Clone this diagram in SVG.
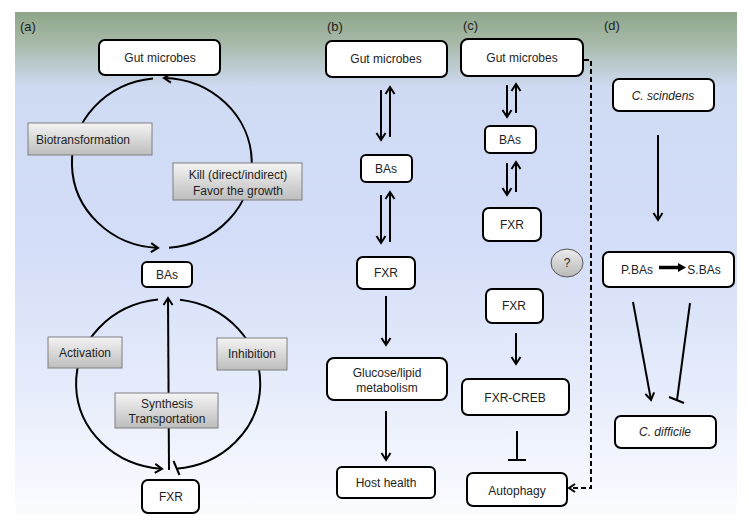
<svg xmlns="http://www.w3.org/2000/svg" width="749" height="528" viewBox="0 0 749 528">
<defs>
<linearGradient id="bg" x1="0" y1="0" x2="0" y2="1">
<stop offset="0" stop-color="#8ea68b"/>
<stop offset="0.06" stop-color="#a6b9a7"/>
<stop offset="0.15" stop-color="#cfdaf3"/>
<stop offset="0.45" stop-color="#d3ddf8"/>
<stop offset="0.75" stop-color="#e6ecfb"/>
<stop offset="1" stop-color="#fbfcff"/>
</linearGradient>
<linearGradient id="gb" x1="0" y1="0" x2="0" y2="1">
<stop offset="0" stop-color="#f4f4f4"/>
<stop offset="1" stop-color="#bdbdbd"/>
</linearGradient>
<linearGradient id="gq" x1="0" y1="0" x2="0" y2="1">
<stop offset="0" stop-color="#ececec"/>
<stop offset="1" stop-color="#b9b9b9"/>
</linearGradient>
<marker id="ah" markerUnits="userSpaceOnUse" viewBox="-10 -6 12 12" refX="0" refY="0" markerWidth="12" markerHeight="12" orient="auto" overflow="visible">
<path d="M-7,-4.5 L0,0 L-7,4.5" fill="none" stroke="#000" stroke-width="2"/>
</marker>
</defs>
<style>
.box{fill:#fff;stroke:#000;stroke-width:2}
.gbox{fill:url(#gb);stroke:#7f7f7f;stroke-width:1}
.t{font-family:"Liberation Sans",Arial,sans-serif;font-size:12px;fill:#1e1e1e;text-anchor:middle}
.it{font-style:italic}
.lbl{font-family:"Liberation Sans",Arial,sans-serif;font-size:13px;fill:#1e1e1e}
.ln{fill:none;stroke:#000;stroke-width:2}
.ar{marker-end:url(#ah)}
.dash{fill:none;stroke:#000;stroke-width:2;stroke-dasharray:5 3}
</style>
<rect x="15" y="12" width="722" height="503" fill="url(#bg)"/>
<g id="labels">
<text class="lbl" x="20" y="31">(a)</text>
<text class="lbl" x="327" y="31">(b)</text>
<text class="lbl" x="463" y="30">(c)</text>
<text class="lbl" x="604" y="30">(d)</text>
</g>
<g id="connectors">
<!-- panel a upper circle -->
<path class="ln ar" d="M153,78.4 A90,85 0 0 0 158,247.9"/>
<path class="ln ar" d="M169,247.7 A90,85 0 0 0 164,78"/>
<!-- panel a lower circle -->
<path class="ln ar" d="M158,299.5 A92,85 0 0 0 162,468.8"/>
<path class="ln" d="M180,299.7 A92,85 0 0 1 176,468.7"/>
<path class="ln" d="M173.5,461 L179.5,475"/>
<path class="ln ar" d="M169,470 L168,298"/>
<!-- panel b -->
<path class="ln ar" d="M381,90 L381,140"/>
<path class="ln ar" d="M390,137 L390,87"/>
<path class="ln ar" d="M381,195 L381,243"/>
<path class="ln ar" d="M390,242 L390,192"/>
<path class="ln ar" d="M386,296 L386,345"/>
<path class="ln ar" d="M386,411 L386,460"/>
<!-- panel c -->
<path class="ln ar" d="M507,85 L507,117"/>
<path class="ln ar" d="M516,113 L516,84"/>
<path class="ln ar" d="M507,163 L507,195"/>
<path class="ln ar" d="M516,192 L516,162"/>
<path class="ln ar" d="M516,333 L516,364"/>
<path class="ln" d="M517,431 L517,460 M508,460 L526,460"/>
<path class="dash" d="M584,60 L591,60 L591,488 L571,488"/>
<path class="ln" d="M575,484 L569,488 L575,492"/>
<!-- panel d -->
<path class="ln ar" d="M633,302 L651,400"/>
<path class="ln ar" d="M658,135 L658,220"/>
<path class="ln" d="M690,303 L677,400 M669,397 L684,403"/>
</g>
<g id="n-a-gut"><rect class="box" x="99" y="40" width="121" height="35" rx="6"/><text class="t" x="160" y="62">Gut microbes</text></g>
<g id="n-a-bio"><rect class="gbox" x="28" y="123" width="124" height="32"/><text class="t" x="83" y="144">Biotransformation</text></g>
<g id="n-a-kill"><rect class="gbox" x="173" y="163" width="129" height="37"/><text class="t" x="238" y="179">Kill (direct/indirect)</text><text class="t" x="238" y="195">Favor the growth</text></g>
<g id="n-a-bas"><rect class="box" x="142" y="262" width="50" height="25" rx="5"/><text class="t" x="167" y="279">BAs</text></g>
<g id="n-a-act"><rect class="gbox" x="48" y="337" width="74" height="31"/><text class="t" x="85" y="357">Activation</text></g>
<g id="n-a-inh"><rect class="gbox" x="217" y="338" width="70" height="32"/><text class="t" x="252" y="358">Inhibition</text></g>
<g id="n-a-syn"><rect class="gbox" x="115" y="393" width="103" height="35"/><text class="t" x="167" y="408">Synthesis</text><text class="t" x="167" y="423">Transportation</text></g>
<g id="n-a-fxr"><rect class="box" x="142" y="480" width="57" height="33" rx="6"/><text class="t" x="171" y="501">FXR</text></g>
<g id="n-b-gut"><rect class="box" x="326" y="41" width="121" height="36" rx="6"/><text class="t" x="386" y="63">Gut microbes</text></g>
<g id="n-b-bas"><rect class="box" x="361" y="155" width="51" height="27" rx="5"/><text class="t" x="386" y="173">BAs</text></g>
<g id="n-b-fxr"><rect class="box" x="357" y="257" width="58" height="32" rx="6"/><text class="t" x="386" y="277">FXR</text></g>
<g id="n-b-glu"><rect class="box" x="327" y="358" width="120" height="42" rx="7"/><text class="t" x="387" y="377">Glucose/lipid</text><text class="t" x="387" y="392">metabolism</text></g>
<g id="n-b-host"><rect class="box" x="337" y="467" width="98" height="31" rx="5"/><text class="t" x="386" y="487">Host health</text></g>
<g id="n-c-gut"><rect class="box" x="461" y="39" width="122" height="37" rx="7"/><text class="t" x="522" y="62">Gut microbes</text></g>
<g id="n-c-bas"><rect class="box" x="485" y="126" width="51" height="27" rx="5"/><text class="t" x="510" y="144">BAs</text></g>
<g id="n-c-fxr1"><rect class="box" x="483" y="208" width="58" height="33" rx="6"/><text class="t" x="512" y="229">FXR</text></g>
<g id="n-c-q"><ellipse cx="567" cy="263" rx="16" ry="14" fill="url(#gq)" stroke="#555" stroke-width="1"/><text class="t" x="567" y="267" font-size="11">?</text></g>
<g id="n-c-fxr2"><rect class="box" x="486" y="289" width="57" height="34" rx="6"/><text class="t" x="514" y="310">FXR</text></g>
<g id="n-c-creb"><rect class="box" x="462" y="379" width="107" height="36" rx="6"/><text class="t" x="515" y="402">FXR-CREB</text></g>
<g id="n-c-auto"><rect class="box" x="467" y="473" width="100" height="33" rx="6"/><text class="t" x="517" y="495">Autophagy</text></g>
<g id="n-d-cs"><rect class="box" x="613" y="79" width="101" height="32" rx="6"/><text class="t it" x="663" y="100">C. scindens</text></g>
<g id="n-d-pbas"><rect class="box" x="603" y="252" width="131" height="35" rx="6"/><text class="t" x="637" y="274">P.BAs</text><path d="M659,267.5 L679,267.5" stroke="#000" stroke-width="3.5"/><path d="M678,263 L686,267.5 L678,272 Z" fill="#000"/><text class="t" x="704" y="274">S.BAs</text></g>
<g id="n-d-cd"><rect class="box" x="615" y="416" width="101" height="32" rx="6"/><text class="t it" x="665" y="436">C. difficile</text></g>
</svg>
